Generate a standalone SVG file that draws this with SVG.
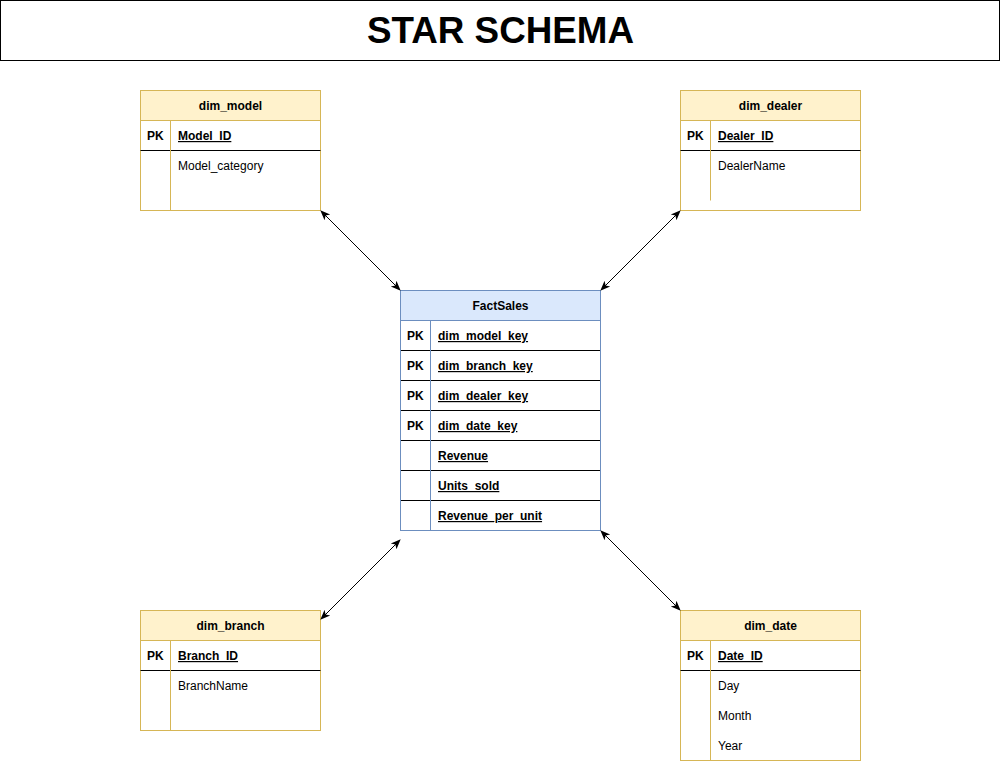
<svg xmlns="http://www.w3.org/2000/svg" width="1001" height="762" viewBox="0 0 1001 762">
<style>
text{font-family:"Liberation Sans",Arial,sans-serif;font-size:12px;fill:#000}
.b{font-weight:bold}
.h{text-anchor:middle;font-weight:bold}
.u{font-weight:bold;text-decoration:underline}
.dim{fill:#fff2cc;stroke:#d6b656}
.dimb{fill:#fff;stroke:#d6b656}
.fact{fill:#dae8fc;stroke:#6c8ebf}
.factb{fill:#fff;stroke:#6c8ebf}
.sep{stroke:#000;stroke-width:1}
.vy{stroke:#d6b656}
.vb{stroke:#6c8ebf}
.c{stroke:#000;stroke-width:1;fill:none;marker-start:url(#a);marker-end:url(#a)}
</style>
<defs>
<marker id="a" viewBox="0 0 10 10" refX="9" refY="5" markerWidth="10" markerHeight="10" markerUnits="userSpaceOnUse" orient="auto-start-reverse">
<path d="M0,1 L10,5 L0,9 L2.5,5 Z" fill="#000"/>
</marker>
</defs>
<rect width="1001" height="762" fill="#fff"/>
<g id="title">
<rect x="0.5" y="0.5" width="999" height="60" fill="#fff" stroke="#000"/>
<text x="367" y="43" textLength="267" lengthAdjust="spacingAndGlyphs" style="font-size:37px;font-weight:bold">STAR SCHEMA</text>
</g>
<g id="dim_model">
<rect class="dimb" x="140.5" y="90.5" width="180" height="120"/>
<rect class="dim" x="140.5" y="90.5" width="180" height="30"/>
<line class="sep" x1="140.5" y1="150.5" x2="320.5" y2="150.5"/>
<line class="vy" x1="170.5" y1="120.5" x2="170.5" y2="210.5"/>
<text class="h" x="230.5" y="110">dim_model</text>
<text class="b" x="147" y="140">PK</text>
<text class="u" x="178" y="140">Model_ID</text>
<text x="178" y="170">Model_category</text>
</g>
<g id="dim_dealer">
<rect class="dimb" x="680.5" y="90.5" width="180" height="120"/>
<rect class="dim" x="680.5" y="90.5" width="180" height="30"/>
<line class="sep" x1="680.5" y1="150.5" x2="860.5" y2="150.5"/>
<line class="vy" x1="710.5" y1="120.5" x2="710.5" y2="200.5"/>
<text class="h" x="770.5" y="110">dim_dealer</text>
<text class="b" x="687" y="140">PK</text>
<text class="u" x="718" y="140">Dealer_ID</text>
<text x="718" y="170">DealerName</text>
</g>
<g id="FactSales">
<rect class="factb" x="400.5" y="290.5" width="200" height="240"/>
<rect class="fact" x="400.5" y="290.5" width="200" height="30"/>
<line class="sep" x1="400.5" y1="350.5" x2="600.5" y2="350.5"/>
<line class="sep" x1="400.5" y1="380.5" x2="600.5" y2="380.5"/>
<line class="sep" x1="400.5" y1="410.5" x2="600.5" y2="410.5"/>
<line class="sep" x1="400.5" y1="440.5" x2="600.5" y2="440.5"/>
<line class="sep" x1="400.5" y1="470.5" x2="600.5" y2="470.5"/>
<line class="sep" x1="400.5" y1="500.5" x2="600.5" y2="500.5"/>
<line class="vb" x1="430.5" y1="320.5" x2="430.5" y2="530.5"/>
<rect x="400.5" y="290.5" width="200" height="240" fill="none" stroke="#6c8ebf"/>
<text class="h" x="500.5" y="310">FactSales</text>
<text class="b" x="407" y="340">PK</text>
<text class="u" x="438" y="340">dim_model_key</text>
<text class="b" x="407" y="370">PK</text>
<text class="u" x="438" y="370">dim_branch_key</text>
<text class="b" x="407" y="400">PK</text>
<text class="u" x="438" y="400">dim_dealer_key</text>
<text class="b" x="407" y="430">PK</text>
<text class="u" x="438" y="430">dim_date_key</text>
<text class="u" x="438" y="460">Revenue</text>
<text class="u" x="438" y="490">Units_sold</text>
<text class="u" x="438" y="520">Revenue_per_unit</text>
</g>
<g id="dim_branch">
<rect class="dimb" x="140.5" y="610.5" width="180" height="120"/>
<rect class="dim" x="140.5" y="610.5" width="180" height="30"/>
<line class="sep" x1="140.5" y1="670.5" x2="320.5" y2="670.5"/>
<line class="vy" x1="170.5" y1="640.5" x2="170.5" y2="730.5"/>
<text class="h" x="230.5" y="630">dim_branch</text>
<text class="b" x="147" y="660">PK</text>
<text class="u" x="178" y="660">Branch_ID</text>
<text x="178" y="690">BranchName</text>
</g>
<g id="dim_date">
<rect class="dimb" x="680.5" y="610.5" width="180" height="150"/>
<rect class="dim" x="680.5" y="610.5" width="180" height="30"/>
<line class="sep" x1="680.5" y1="670.5" x2="860.5" y2="670.5"/>
<line class="vy" x1="710.5" y1="640.5" x2="710.5" y2="760.5"/>
<text class="h" x="770.5" y="630">dim_date</text>
<text class="b" x="687" y="660">PK</text>
<text class="u" x="718" y="660">Date_ID</text>
<text x="718" y="690">Day</text>
<text x="718" y="720">Month</text>
<text x="718" y="750">Year</text>
</g>
<g id="connectors">
<line class="c" x1="321" y1="211" x2="400" y2="290"/>
<line class="c" x1="680" y1="211" x2="601" y2="290"/>
<line class="c" x1="400" y1="540" x2="321" y2="619"/>
<line class="c" x1="601" y1="531" x2="680" y2="610"/>
</g>
</svg>
